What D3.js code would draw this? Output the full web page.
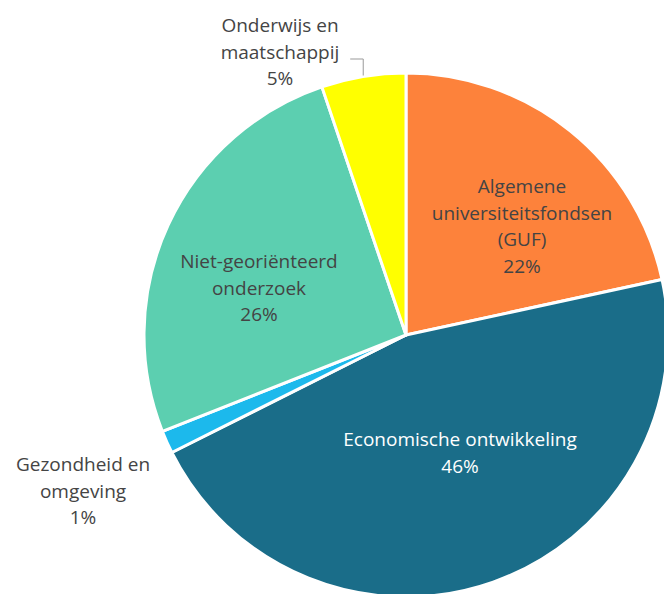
<!DOCTYPE html>
<html>
<head>
<meta charset="utf-8">
<script src="https://cdn.jsdelivr.net/npm/d3@7"></script>
<style>
  html, body { margin: 0; padding: 0; background: #fff; }
  svg { display: block; }
  text { font-family: "Open Sans", "Noto Sans", sans-serif; font-size: 19px; }
</style>
</head>
<body>
<svg id="chart" width="664" height="594"></svg>
<script>
// Share of budget per policy domain (percent)
const categories = [
  "Algemene universiteitsfondsen (GUF)",
  "Economische ontwikkeling",
  "Gezondheid en omgeving",
  "Niet-georiënteerd onderzoek",
  "Onderwijs en maatschappij"
];
const values = [21.6, 46.0, 1.4, 25.8, 5.2];
const labelLines = [
  ["Algemene", "universiteitsfondsen", "(GUF)"],
  ["Economische ontwikkeling"],
  ["Gezondheid en", "omgeving"],
  ["Niet-georiënteerd", "onderzoek"],
  ["Onderwijs en", "maatschappij"]
];
const colors = ["#fd823b", "#1a6d89", "#1cb9ec", "#5ccfb0", "#ffff00"];
const labelColors = ["#444", "#fff", "#444", "#444", "#444"];

const width = 664, height = 594;
const cx = 406, cy = 335, radius = 262;

// label anchor (centre x, first baseline y) relative to pie centre
const labelAnchor = [
  [116, -142],
  [54, 111],
  [-323, 136],
  [-147, -67],
  [-126, -303]
];
const lineHeight = 26.5;

const svg = d3.select("#chart");
const g = svg.append("g").attr("transform", `translate(${cx},${cy})`);

const data = categories.map((c, i) => ({ name: c, value: values[i], i }));
const pie = d3.pie().sort(null).value(d => d.value);
const arc = d3.arc().innerRadius(0).outerRadius(radius);
const arcs = pie(data);

g.selectAll("path.slice")
  .data(arcs)
  .join("path")
  .attr("class", "slice")
  .attr("d", arc)
  .attr("fill", d => colors[d.data.i])
  .attr("stroke", "#fff")
  .attr("stroke-width", 3)
  .attr("stroke-linejoin", "round");

// connector for the small outside label at the top
const onderwijs = arcs[4];
const mid = (onderwijs.startAngle + onderwijs.endAngle) / 2;
const edgeX = Math.sin(mid) * (radius + 1);
const edgeY = -Math.cos(mid) * (radius + 1);
const elbowY = -276;
g.append("path")
  .attr("d", `M${edgeX - 13},${elbowY} L${edgeX},${elbowY} L${edgeX},${edgeY}`)
  .attr("fill", "none")
  .attr("stroke", "#999")
  .attr("stroke-width", 1);

const labels = g.selectAll("text.lbl")
  .data(arcs)
  .join("text")
  .attr("class", "lbl")
  .attr("text-anchor", "middle")
  .attr("fill", d => labelColors[d.data.i])
  .attr("x", d => labelAnchor[d.data.i][0])
  .attr("y", d => labelAnchor[d.data.i][1]);

labels.each(function(d) {
  const t = d3.select(this);
  const [ax, ay] = labelAnchor[d.data.i];
  const lines = labelLines[d.data.i].concat([d3.format(".0f")(d.data.value) + "%"]);
  lines.forEach((ln, k) => {
    t.append("tspan")
      .attr("x", ax)
      .attr("y", ay + k * lineHeight)
      .text(ln);
  });
});
</script>
</body>
</html>
